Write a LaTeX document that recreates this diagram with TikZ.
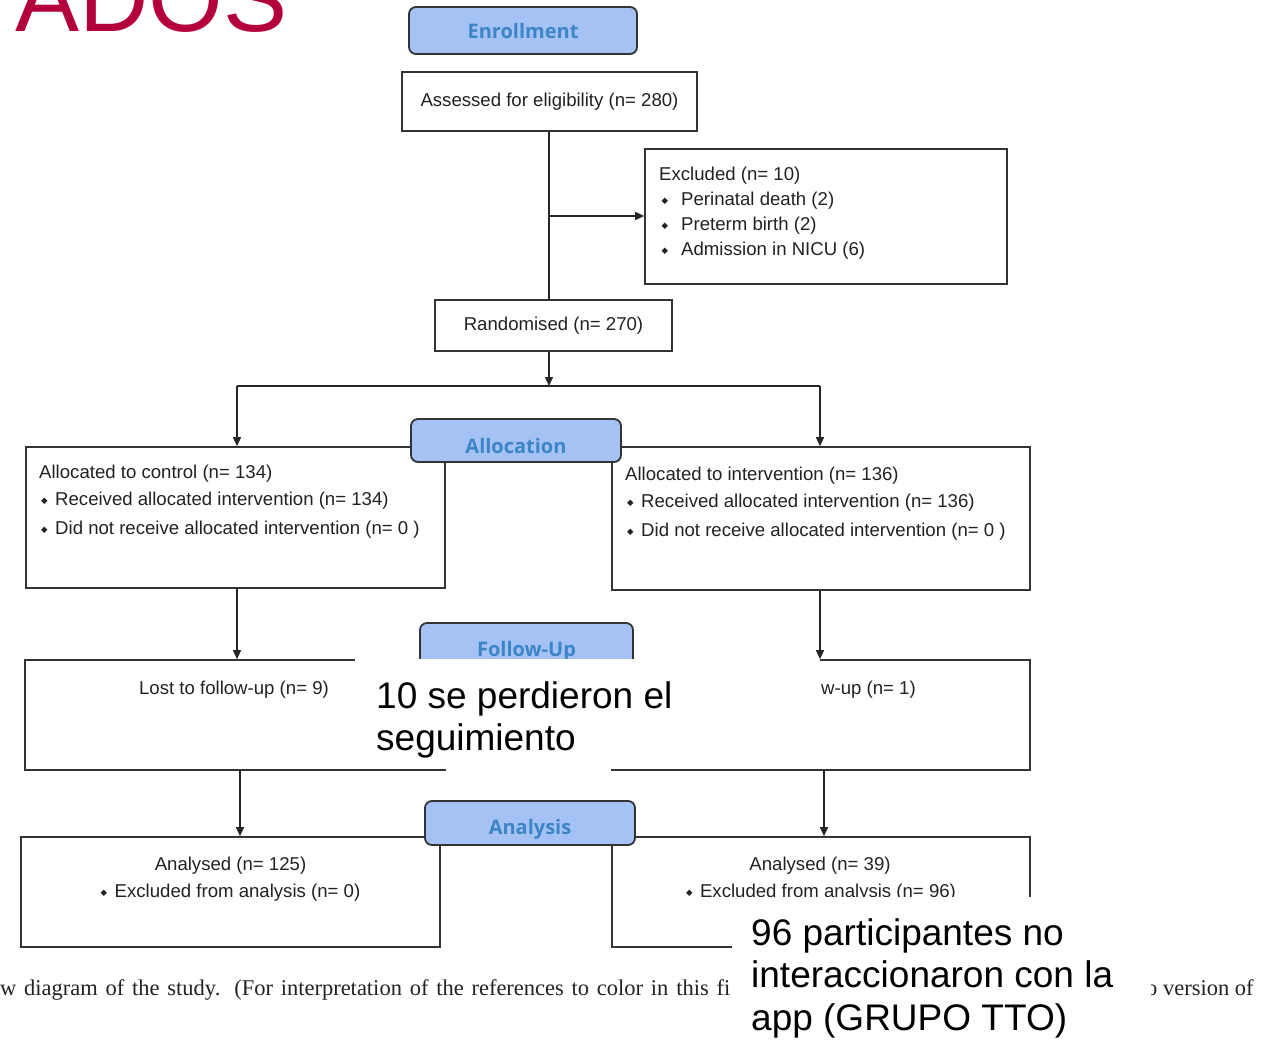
\documentclass[tikz,border=0pt]{standalone}
\usepackage{fontspec}
\setmainfont{Liberation Sans}
\newfontfamily\tabfont{Open Sans}
\newfontfamily\capfont{Liberation Serif}
\newfontfamily\symfont{DejaVu Sans}
\usetikzlibrary{arrows.meta}
\definecolor{tabfill}{HTML}{A4C2F4}
\definecolor{tabtext}{HTML}{3D85C6}
\definecolor{adosred}{HTML}{B4003A}
\definecolor{boxline}{HTML}{333333}
\definecolor{txtcol}{HTML}{222222}
\newcommand{\dmd}{\raisebox{1.6pt}{\symfont\fontsize{8.5}{8.5}\selectfont ◆}}
\newcommand{\bulw}[1]{\makebox[#1][l]{\dmd}}
\newcommand{\tablabel}[2]{\raisebox{-#1}[0pt][0pt]{#2}}
\begin{document}
\begin{tikzpicture}[x=1pt,y=-1pt,
 box/.style={draw=boxline, line width=1.6pt, fill=white, inner sep=0pt},
 tab/.style={draw=boxline, line width=1.8pt, fill=tabfill, rounded corners=7pt, inner sep=0pt,
   font=\tabfont\bfseries\fontsize{20}{24}\selectfont, text=tabtext},
 txt/.style={inner sep=0pt, font=\fontsize{18.6}{22}\selectfont, text=txtcol},
 ltxt/.style={txt, yshift=-2.5pt},
 big/.style={inner sep=0pt, font=\fontsize{37}{42.5}\selectfont, align=left, text=black},
 captxt/.style={inner sep=0pt, font=\capfont\fontsize{22.5}{26}\selectfont, text=txtcol},
 conn/.style={line width=1.4pt, draw=black!85},
 arr/.style={conn, -{Triangle[length=9pt,width=8pt]}}
]
\useasboundingbox (0,0) rectangle (1268,1040);
\clip (0,0) rectangle (1268,1040);
\fill[white] (0,0) rectangle (1268,1040);

% title fragment
\node[anchor=base west, inner sep=0pt, font=\fontsize{96}{100}\selectfont, text=adosred] (ados) at (15,32) {ADOS};

% boxes
\node[box, txt, minimum width=295pt, minimum height=59pt] (assess) at (549.5,101.5) {Assessed for eligibility (n= 280)};
\node[box, minimum width=362pt, minimum height=135pt] (excl) at (826,216.5) {};
\node[box, txt, minimum width=237pt, minimum height=51pt] (rand) at (553.5,325.5) {Randomised (n= 270)};
\node[box, minimum width=419pt, minimum height=141pt] (allocL) at (235.5,517.5) {};
\node[box, minimum width=418pt, minimum height=143pt] (allocR) at (821,518.5) {};
\node[box, minimum width=420pt, minimum height=110pt] (lostL) at (235,715) {};
\node[box, minimum width=418pt, minimum height=110pt] (lostR) at (821,715) {};
\node[box, minimum width=419pt, minimum height=110pt] (anaL) at (230.5,892) {};
\node[box, minimum width=418pt, minimum height=110pt] (anaR) at (821,892) {};

% excluded text
\node[ltxt, anchor=west] (ex1) at (659,173) {Excluded (n= 10)};
\node[ltxt, anchor=west] (ex2) at (661.5,198) {\bulw{19.5pt}Perinatal death (2)};
\node[ltxt, anchor=west] (ex3) at (661.5,223) {\bulw{19.5pt}Preterm birth (2)};
\node[ltxt, anchor=west] (ex4) at (661.5,248) {\bulw{19.5pt}Admission in NICU (6)};

% allocation texts
\node[ltxt, anchor=west] (al1) at (39,471) {Allocated to control (n= 134)};
\node[ltxt, anchor=west] (al2) at (41,498) {\bulw{14pt}Received allocated intervention (n= 134)};
\node[ltxt, anchor=west] (al3) at (41,527) {\bulw{14pt}Did not receive allocated intervention (n= 0 )};
\node[ltxt, anchor=west] (ar1) at (625,473) {Allocated to intervention (n= 136)};
\node[ltxt, anchor=west] (ar2) at (627,500) {\bulw{14pt}Received allocated intervention (n= 136)};
\node[ltxt, anchor=west] (ar3) at (627,529) {\bulw{14pt}Did not receive allocated intervention (n= 0 )};

% follow-up texts
\node[ltxt] (lo1) at (234,687) {Lost to follow-up (n= 9)};
\node[ltxt, anchor=west] (lo2) at (821,687) {w-up (n= 1)};

% analysis texts
\node[ltxt] (an1) at (230.5,863) {Analysed (n= 125)};
\node[ltxt] (an2) at (230.5,890) {\bulw{14pt}Excluded from analysis (n= 0)};
\node[ltxt] (an3) at (820,863) {Analysed (n= 39)};
\node[ltxt] (an4) at (821,890) {\bulw{14pt}Excluded from analysis (n= 96)};

% tabs
\node[tab, minimum width=228pt, minimum height=47pt] (enr) at (523,30.5) {\tablabel{8pt}{Enrollment}};
\node[tab, minimum width=210pt, minimum height=43pt] (allo) at (516,440.5) {\tablabel{12.5pt}{Allocation}};
\node[tab, minimum width=213pt, minimum height=44pt] (fol) at (526.5,645) {\tablabel{11pt}{Follow-Up}};
\node[tab, minimum width=210pt, minimum height=44pt] (ana) at (530,823) {\tablabel{11pt}{Analysis}};

% caption fragments
\node[captxt, anchor=base west] (cap1) at (0,995) {\makebox[730pt][s]{w diagram of the study. (For interpretation of the references to color in this fi}};
\node[captxt, anchor=base west] (cap2) at (1146,995) {o version of};

% overlays
\fill[white] (355,658.5) rectangle (820,769);
\node[big, anchor=north west] (ov1) at (376,681) {10 se perdieron el\\seguimiento};
\fill[white] (732,897) rectangle (1151,1040);
\node[big, anchor=north west] (ov2) at (751,918) {96 participantes no\\interaccionaron con la\\app (GRUPO TTO)};

% connectors
\coordinate (j1) at (549,216);
\draw[conn] (assess.south -| j1) -- (j1 |- rand.north);
\draw[arr] (j1) -- (j1 -| excl.west);
\coordinate (split) at (549,386);
\draw[arr] (split |- rand.south) -- (split);
\coordinate (sL) at (237,386);
\coordinate (sR) at (820,386);
\draw[conn] (sL) -- (sR);
\draw[arr] (sL) -- (sL |- allocL.north);
\draw[arr] (sR) -- (sR |- allocR.north);
\draw[arr] (sL |- allocL.south) -- (sL |- lostL.north);
\draw[arr] (sR |- allocR.south) -- (sR |- lostR.north);
\coordinate (dL) at (240,770);
\coordinate (dR) at (824,770);
\draw[arr] (dL) -- (dL |- anaL.north);
\draw[arr] (dR) -- (dR |- anaR.north);
\end{tikzpicture}
\end{document}
